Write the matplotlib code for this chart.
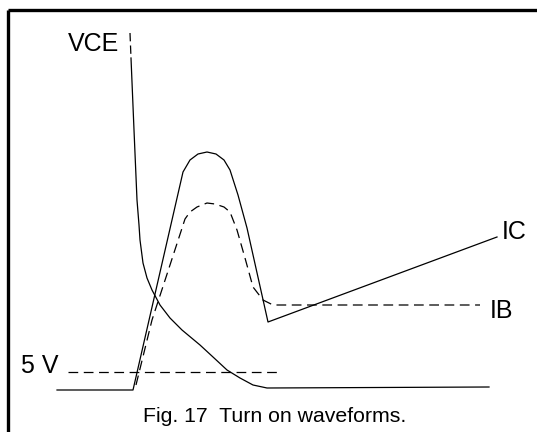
import matplotlib.pyplot as plt

plt.rcParams['font.family'] = ['Liberation Sans', 'DejaVu Sans']
plt.rcParams['lines.scale_dashes'] = False

# Curvas (coordenadas en píxeles, y hacia abajo)
ic_x = [57, 133, 158, 183, 190, 198, 207, 216, 224, 230, 238, 247, 268, 497]
ic_y = [390, 390, 281, 172, 160, 154, 152, 154, 160, 170, 195, 228, 322, 237]

ib_x = [136, 152, 170, 185, 190, 197, 207, 215, 224, 230, 237, 245, 253, 263, 273, 480]
ib_y = [385, 320, 265, 219, 212, 207, 203, 204, 207, 212, 230, 258, 287, 300, 305, 305]

vce_top_x = [130, 131]
vce_top_y = [33, 58]
vce_x = [131, 134, 137, 139, 140, 143, 147, 152, 160, 170, 182, 200, 213, 227, 240, 253, 267, 489]
vce_y = [58, 130, 200, 225, 240, 263, 278, 290, 305, 318, 330, 345, 357, 370, 378, 385, 388, 387]

v5_x = [68, 277]
v5_y = [372, 372]

fig = plt.figure(figsize=(5.37, 4.32), dpi=100)
ax = fig.add_axes([0, 0, 1, 1])
ax.set_xlim(0, 537)
ax.set_ylim(432, 0)
ax.axis('off')

lw = 0.9
ax.plot(ic_x, ic_y, color='black', lw=lw)
ax.plot(ib_x, ib_y, color='black', lw=lw, dashes=(7, 4))
ax.plot(vce_top_x, vce_top_y, color='black', lw=lw, dashes=(6, 3))
ax.plot(vce_x, vce_y, color='black', lw=lw)
ax.plot(v5_x, v5_y, color='black', lw=lw, dashes=(7, 4))

# Marco (solo arriba e izquierda visibles)
ax.plot([7.5, 537], [9.5, 9.5], color='black', lw=2.4, solid_capstyle='butt')
ax.plot([7.5, 7.5], [9.5, 432], color='black', lw=2.4, solid_capstyle='butt')

fs = 18
ax.text(68, 44, 'VCE', fontsize=fs, va='center', ha='left')
ax.text(21, 366, '5 V', fontsize=fs, va='center', ha='left')
ax.text(502, 232, 'IC', fontsize=fs, va='center', ha='left')
ax.text(490, 311, 'IB', fontsize=fs, va='center', ha='left')
ax.text(275, 417, 'Fig. 17  Turn on waveforms.', fontsize=15.3, va='center', ha='center')

fig.savefig('out.png', dpi=100)
